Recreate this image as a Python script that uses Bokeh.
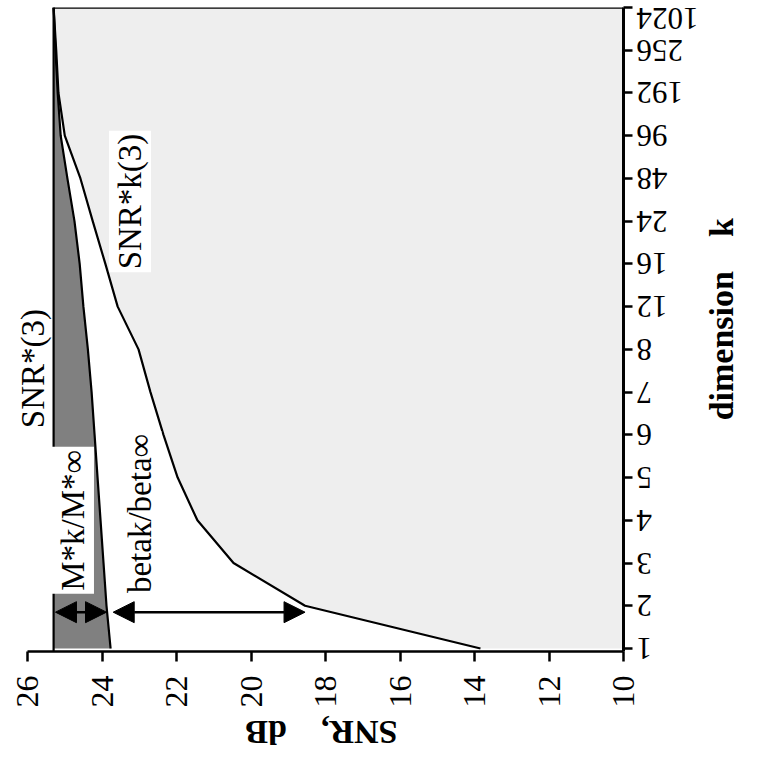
import math
from bokeh.plotting import figure
from bokeh.models import Range1d, FixedTicker, Label, Arrow, NormalHead, Span, LinearAxis
from bokeh.embed import file_html
from bokeh.resources import INLINE

# ---- data ----
k_labels = ["1", "2", "3", "4", "5", "6", "7", "8", "12", "16", "24", "48", "96", "192", "256", "1024"]
snr_k = [13.84, 18.55, 20.47, 21.44, 21.97, 22.35, 22.70, 23.02, 23.58, 23.91,
         24.25, 24.58, 25.00, 25.17, 25.23, 25.30]          # SNR*k(3)
snr_m = [23.77, 23.88, 23.96, 24.04, 24.12, 24.20, 24.28, 24.38, 24.50, 24.60,
         24.74, 24.93, 25.11, 25.19, 25.25, 25.30]          # M*k/M*inf boundary
snr_star = 25.30                                            # SNR*(3)
snr_ticks = [26, 24, 22, 20, 18, 16, 14, 12, 10]
x_title, y_title = "SNR,\u00a0\u00a0\u00a0\u00a0dB", "dimension\u00a0\u00a0\u00a0\u00a0k"

idx = list(range(len(k_labels)))
FONT = "Liberation Serif"

p = figure(width=763, height=774,
           x_range=Range1d(26.35, snr_ticks[-1]),
           y_range=Range1d(-0.07, idx[-1]),
           y_axis_location="right",
           output_backend="svg", toolbar_location=None,
           min_border_left=14, min_border_top=7,
           min_border_right=140, min_border_bottom=123)
p.xgrid.visible = False
p.ygrid.visible = False
p.outline_line_color = None
p.background_fill_color = "white"
p.border_fill_color = "white"

# light gray region (right of SNR*k curve)
p.harea(x1=snr_k, x2=[snr_ticks[-1]] * len(idx), y=idx, fill_color="#eeeeee")
# dark gray region (between SNR*(3) and M*k)
p.harea(x1=[snr_star] * len(idx), x2=snr_m, y=idx, fill_color="#808080")

p.line(snr_k, idx, line_color="black", line_width=2.2)
p.line(snr_m, idx, line_color="black", line_width=2.2)
p.line([snr_star, snr_ticks[-1]], [idx[-1], idx[-1]], line_color="black", line_width=2.5)
p.add_layout(Span(location=snr_star, dimension="height", line_color="black", line_width=2.2))

# annotations
def lab(x, y, text, box):
    kw = dict(x=x, y=y, text=text, angle=math.pi / 2, text_align="center",
              text_baseline="middle", text_font=FONT, text_font_size="33px",
              text_color="black")
    if box:
        kw.update(background_fill_color="white", padding=3)
    p.add_layout(Label(**kw))

lab(25.84, 6.55, "SNR*(3)", False)
lab(23.25, 10.46, "SNR*k(3)", True)
lab(24.78, 3.0, "M*k/M*\u221e", True)
lab(22.97, 3.16, "betak/beta\u221e", True)

arrow_y = 0.85
for xs, xe in [(snr_star - 0.05, snr_m[1]), (snr_m[1] - 0.18, snr_k[1])]:
    p.add_layout(Arrow(start=NormalHead(size=21, fill_color="black", line_color="black"),
                       end=NormalHead(size=21, fill_color="black", line_color="black"),
                       x_start=xs, y_start=arrow_y, x_end=xe, y_end=arrow_y,
                       line_width=2.5, line_color="black"))

# bottom axis (SNR)
xa = p.xaxis[0]
xa.bounds = (snr_ticks[0], snr_ticks[-1])
xa.ticker = FixedTicker(ticks=snr_ticks)
xa.major_label_orientation = math.pi / 2
xa.major_label_text_font = FONT
xa.major_label_text_font_size = "32px"
xa.major_label_text_color = "black"
xa.major_label_standoff = 14
xa.axis_line_width = 2.5
xa.axis_line_color = "black"
xa.major_tick_line_width = 2.5
xa.major_tick_line_color = "black"
xa.major_tick_out = 10
xa.major_tick_in = 0
xa.minor_tick_line_color = None

# right axis (dimension k) - labels turned upside down like the reference
ya = p.yaxis[0]
ya.ticker = FixedTicker(ticks=idx)
ya.major_label_overrides = {i: "\u2007" * (4 - len(s)) + s for i, s in zip(idx, k_labels)}
ya.major_label_orientation = math.pi
ya.major_label_text_font = FONT
ya.major_label_text_font_size = "31px"
ya.major_label_text_color = "black"
ya.major_label_standoff = 66
ya.axis_line_width = 3
ya.axis_line_color = "black"
ya.major_tick_line_width = 2.5
ya.major_tick_line_color = "black"
ya.major_tick_out = 9
ya.major_tick_in = 0
ya.minor_tick_line_color = None

# axis titles (as single labels of bare axes so that they can be turned)
def title_axis(pos, text, orient, standoff, side):
    ax = LinearAxis(ticker=FixedTicker(ticks=[pos]),
                    major_label_overrides={pos: text},
                    major_label_orientation=orient,
                    major_label_standoff=standoff,
                    major_label_text_font=FONT,
                    major_label_text_font_style="bold",
                    major_label_text_font_size="34px",
                    major_label_text_color="black",
                    axis_line_color=None, major_tick_line_color=None,
                    minor_tick_line_color=None, major_tick_out=0, major_tick_in=0,
                    minor_tick_out=0, minor_tick_in=0)
    p.add_layout(ax, side)

title_axis(20.15, x_title, math.pi, 22, "below")
title_axis(5.34, y_title, math.pi / 2, -42, "right")

open("out.html", "w").write(file_html(p, INLINE))
